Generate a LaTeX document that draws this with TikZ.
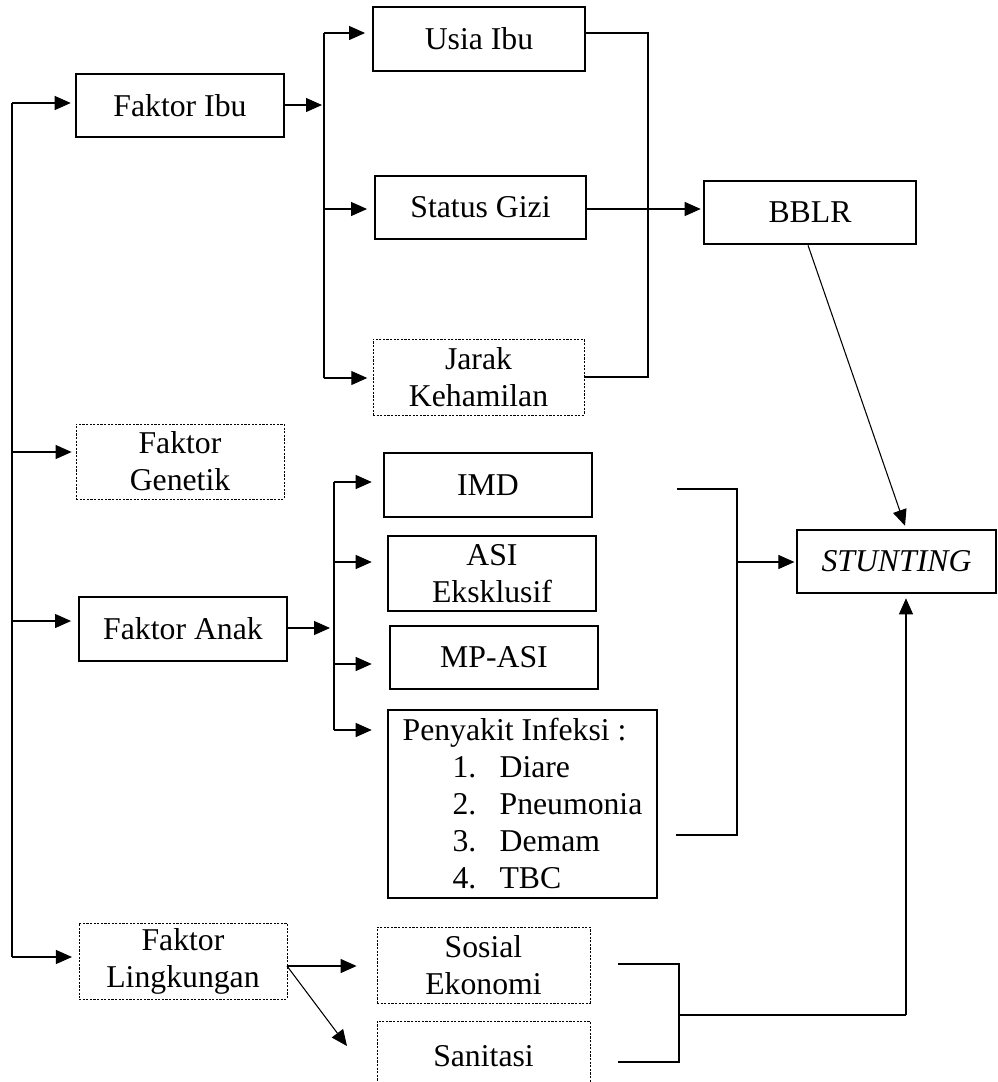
\documentclass[tikz,border=0pt]{standalone}
\usepackage{fontspec}
\setmainfont{Liberation Serif}
\usetikzlibrary{arrows.meta,calc}
\tikzset{
  box/.style={draw, line width=1.9pt},
  dbox/.style={draw, line width=0.6pt, dash pattern=on 1.6pt off 1.1pt},
  sz/.style 2 args={minimum width=#1*0.75pt, minimum height=#2*0.75pt},
  con/.style={line width=0.8pt},
  arr/.style={con, -{Triangle[length=12pt,width=10.5pt]}},
}
\begin{document}
\begin{tikzpicture}[x=0.75pt,y=-0.75pt,
  every node/.style={font=\fontsize{23.8}{27.75}\selectfont, align=center, inner sep=0pt}]
\clip (0,0) rectangle (998,1082);
\fill[white] (0,0) rectangle (998,1082);

% nodes
\node[box, sz={208}{63}] (ibu) at (180,105.5) {Faktor Ibu};
\node[box, sz={212}{64}] (usia) at (479,39) {Usia Ibu};
\node[box, sz={211}{63}] (gizi) at (480.5,207.5) {Status Gizi};
\node[dbox, sz={211}{76}] (jarak) at (478.5,377) {Jarak\\Kehamilan};
\node[box, sz={212}{63}] (bblr) at (810,212.5) {BBLR};
\node[dbox, sz={208}{75}] (genetik) at (180,461.5) {Faktor\\Genetik};
\node[box, sz={208}{64}] (anak) at (183,629) {Faktor Anak};
\node[box, sz={208}{64}] (imd) at (488,485) {IMD};
\node[box, sz={208}{75}] (asi) at (492,573.5) {ASI\\Eksklusif};
\node[box, sz={208}{63}] (mpasi) at (494,657.5) {MP-ASI};
\node[box, sz={269}{188}, align=left] (penyakit) at (522.5,804) {Penyakit Infeksi :\\
\hspace*{37.5pt}\makebox[35.25pt][l]{1.}Diare\\
\hspace*{37.5pt}\makebox[35.25pt][l]{2.}Pneumonia\\
\hspace*{37.5pt}\makebox[35.25pt][l]{3.}Demam\\
\hspace*{37.5pt}\makebox[35.25pt][l]{4.}TBC};
\node[box, sz={199}{63}] (stunting) at (896.5,561.5) {\textit{STUNTING}};
\node[dbox, sz={208}{76}] (lingkungan) at (183,961) {Faktor\\Lingkungan};
\node[dbox, sz={213}{76}] (sosial) at (483.5,965) {Sosial\\Ekonomi};
\node[dbox, sz={213}{71}] (sanitasi) at (483.5,1056.5) {Sanitasi};

% left trunk
\coordinate (t1) at (12,103);
\coordinate (t2) at (12,452);
\coordinate (t3) at (12,621);
\coordinate (t4) at (12,957);
\draw[con] (t1) -- (t4);
\draw[arr, shorten >=3pt] (t1) -- (t1 -| ibu.west);
\draw[arr, shorten >=3pt] (t2) -- (t2 -| genetik.west);
\draw[arr, shorten >=5pt] (t3) -- (t3 -| anak.west);
\draw[arr, shorten >=5pt] (t4) -- (t4 -| lingkungan.west);

% Faktor Ibu branch
\coordinate (ib) at (324,105);
\coordinate (iu) at (324,33);
\coordinate (ig) at (324,209);
\coordinate (ij) at (324,378);
\draw[arr, shorten >=1.5pt] (ibu.east |- ib) -- (ib);
\draw[con] (iu) -- (ij);
\draw[arr, shorten >=5pt] (iu) -- (iu -| usia.west);
\draw[arr, shorten >=5pt] (ig) -- (ig -| gizi.west);
\draw[arr, shorten >=4pt] (ij) -- (ij -| jarak.west);

% right of Ibu group
\coordinate (ru) at (648,33);
\coordinate (rg) at (648,209);
\coordinate (rj) at (648,377);
\draw[con] (usia.east |- ru) -- (ru) -- (rj) -- (jarak.east |- rj);
\draw[con] (gizi.east |- rg) -- (rg);
\draw[arr, shorten >=1.5pt] (rg) -- (rg -| bblr.west);

% BBLR -> STUNTING
\draw[arr] ($(bblr.south)+(-2,0)$) -- ($(stunting.north)+(8.5,-3)$);

% Faktor Anak branch
\coordinate (ab) at (334,628);
\coordinate (a1) at (334,482);
\coordinate (a2) at (334,562);
\coordinate (a3) at (334,664);
\coordinate (a4) at (334,730);
\draw[arr, shorten >=3pt] (anak.east |- ab) -- (ab);
\draw[con] (a1) -- (a4);
\draw[arr, shorten >=8.25pt] (a1) -- (a1 -| imd.west);
\draw[arr, shorten >=11.25pt] (a2) -- (a2 -| asi.west);
\draw[arr, shorten >=12.75pt] (a3) -- (a3 -| mpasi.west);
\draw[arr, shorten >=11.25pt] (a4) -- (a4 -| penyakit.west);

% right of Anak group
\coordinate (m1) at (677,489);
\coordinate (mv1) at (737,489);
\coordinate (mv2) at (737,835);
\coordinate (m2) at (676,835);
\coordinate (ms) at (737,562);
\draw[con] (m1) -- (mv1) -- (mv2) -- (m2);
\draw[arr, shorten >=1pt] (ms) -- (ms -| stunting.west);

% Faktor Lingkungan branch
\coordinate (lr) at (287,966);
\coordinate (sanarrow) at (347,1046);
\draw[arr, shorten >=15pt] (lr) -- (lr -| sosial.west);
\draw[arr] (lr) -- (sanarrow);

% bracket to STUNTING
\coordinate (s1) at (618,964);
\coordinate (s2) at (679,964);
\coordinate (s3) at (679,1062);
\coordinate (s4) at (618,1062);
\coordinate (s5) at (679,1015);
\coordinate (s6) at (906,1015);
\draw[con] (s1) -- (s2) -- (s3) -- (s4);
\draw[con] (s5) -- (s6);
\draw[arr, shorten >=3pt] (s6) -- (s6 |- stunting.south);
\end{tikzpicture}
\end{document}
